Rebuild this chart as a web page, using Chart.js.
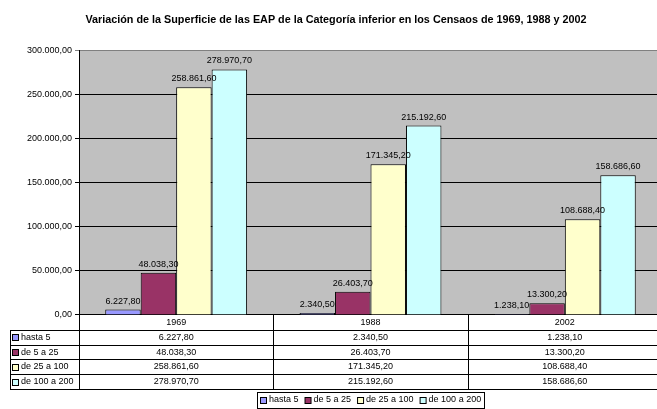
<!DOCTYPE html>
<html lang="es">
<head>
<meta charset="utf-8">
<title>Superficie EAP categoría inferior</title>
<script src="https://cdn.jsdelivr.net/npm/chart.js@4.4.1/dist/chart.umd.min.js"></script>
<style>
  html, body { margin: 0; padding: 0; background: #fff; overflow: hidden; }
  #wrap { width: 666px; height: 409px; }
</style>
</head>
<body>
<div id="wrap"><canvas id="chart" width="666" height="409"></canvas></div>
<script>
'use strict';

/* ── Data ── */
const years       = ['1969', '1988', '2002'];
const seriesNames = ['hasta 5', 'de 5 a 25', 'de 25 a 100', 'de 100 a 200'];
const hasta5      = [6227.8, 2340.5, 1238.1];
const de5a25      = [48038.3, 26403.7, 13300.2];
const de25a100    = [258861.6, 171345.2, 108688.4];
const de100a200   = [278970.7, 215192.6, 158686.6];
const yTickValues = [0, 50000, 100000, 150000, 200000, 250000, 300000];

const TITLE = 'Variación de la Superficie de las EAP de la Categoría inferior en los Censaos de 1969, 1988 y 2002';

/* ── Theme ── */
const C = {
  plot:   '#C0C0C0',
  ink:    '#000000',
  frame:  '#808080',
  series: ['#9999FF', '#993366', '#FFFFCC', '#CCFFFF'],
};
const FONT = '"Liberation Sans", Arial, sans-serif';
const TXT  = 9;
const PAD_L = 10;          // outer left padding (shifts title centre)

Chart.defaults.font.family = FONT;
Chart.defaults.color = C.ink;

/* 6.227,80 style numbers */
function fmt(v) {
  const [i, d] = Number(v).toFixed(2).split('.');
  return i.replace(/\B(?=(\d{3})+(?!\d))/g, '.') + ',' + d;
}
const crisp = v => Math.round(v) + 0.5;

/* ============================================================
   PLUGINS
   ============================================================ */
const plotBg = {
  id: 'plotBg',
  beforeDraw(chart) {
    const { ctx, chartArea: a } = chart;
    ctx.save();
    ctx.fillStyle = C.plot;
    ctx.fillRect(a.left, a.top, a.right - a.left, a.bottom - a.top);
    ctx.restore();
  },
};

const barLabels = {
  id: 'barLabels',
  afterDatasetsDraw(chart) {
    const { ctx } = chart;
    ctx.save();
    ctx.font = `${TXT}px ${FONT}`;
    ctx.fillStyle = C.ink;
    ctx.textAlign = 'center';
    ctx.textBaseline = 'bottom';
    chart.data.datasets.forEach((ds, di) => {
      chart.getDatasetMeta(di).data.forEach((bar, i) => {
        ctx.fillText(fmt(ds.data[i]), bar.x, bar.y - 4);
      });
    });
    ctx.restore();
  },
};

/* Excel style data table under the axis */
const TABLE = { headH: 15, rowH: 14.75, left: 10, box: 6 };

const dataTable = {
  id: 'dataTable',
  afterDraw(chart) {
    const { ctx, chartArea: a, scales: { x } } = chart;
    const sets = chart.data.datasets;
    const n = chart.data.labels.length;
    const colW = (a.right - a.left) / n;
    const top = a.bottom;
    const bodyTop = top + TABLE.headH;
    const bottom = bodyTop + TABLE.rowH * sets.length;

    ctx.save();
    ctx.strokeStyle = C.ink;
    ctx.lineWidth = 1;
    ctx.beginPath();
    for (let r = 0; r <= sets.length; r++) {
      const y = crisp(bodyTop + r * TABLE.rowH);
      ctx.moveTo(TABLE.left, y);
      ctx.lineTo(a.right, y);
    }
    ctx.moveTo(crisp(TABLE.left), bodyTop);
    ctx.lineTo(crisp(TABLE.left), bottom);
    for (let i = 0; i <= n; i++) {
      const xx = crisp(a.left + i * colW);
      ctx.moveTo(xx, top);
      ctx.lineTo(xx, bottom);
    }
    ctx.stroke();

    ctx.font = `${TXT}px ${FONT}`;
    ctx.textBaseline = 'middle';
    sets.forEach((ds, r) => {
      const cy = bodyTop + (r + 0.5) * TABLE.rowH;
      // series key
      const by = Math.round(cy - TABLE.box / 2) + 0.5;
      ctx.fillStyle = ds.backgroundColor;
      ctx.fillRect(TABLE.left + 2.5, by, TABLE.box, TABLE.box);
      ctx.strokeRect(TABLE.left + 2.5, by, TABLE.box, TABLE.box);
      ctx.fillStyle = C.ink;
      ctx.textAlign = 'left';
      ctx.fillText(ds.label, TABLE.left + 11, cy);
      // values
      ctx.textAlign = 'center';
      ds.data.forEach((v, i) => ctx.fillText(fmt(v), x.getPixelForValue(i), cy));
    });
    ctx.restore();
  },
};

/* Boxed legend below the table, centred on the plot */
const LEG = { top: 392, h: 16, box: 6, gap: 3, itemGap: 6, pad: 3 };

const boxLegend = {
  id: 'boxLegend',
  afterDraw(chart) {
    const { ctx, chartArea: a } = chart;
    const sets = chart.data.datasets;
    ctx.save();
    ctx.font = `${TXT}px ${FONT}`;
    const widths = sets.map(ds => ctx.measureText(ds.label).width);
    const total = widths.reduce((s, w) => s + LEG.box + LEG.gap + w, 0)
                + LEG.itemGap * (sets.length - 1) + LEG.pad * 2;
    const left = Math.round((a.left + a.right) / 2 - total / 2);
    const cy = LEG.top + LEG.h / 2;

    ctx.strokeStyle = C.ink;
    ctx.lineWidth = 1;
    ctx.strokeRect(left + 0.5, LEG.top + 0.5, Math.round(total), LEG.h);

    let cx = left + LEG.pad;
    ctx.textAlign = 'left';
    ctx.textBaseline = 'middle';
    sets.forEach((ds, i) => {
      const by = Math.round(cy - LEG.box / 2) + 0.5;
      ctx.fillStyle = ds.backgroundColor;
      ctx.fillRect(cx + 0.5, by, LEG.box, LEG.box);
      ctx.strokeRect(cx + 0.5, by, LEG.box, LEG.box);
      cx += LEG.box + LEG.gap;
      ctx.fillStyle = C.ink;
      ctx.fillText(ds.label, cx, cy);
      cx += widths[i] + LEG.itemGap;
    });
    ctx.restore();
  },
};

/* ============================================================
   CHART
   ============================================================ */
const seriesValues = [hasta5, de5a25, de25a100, de100a200];

new Chart(document.getElementById('chart'), {
  type: 'bar',
  data: {
    labels: years,
    datasets: seriesNames.map((name, i) => ({
      label: name,
      data: seriesValues[i],
      backgroundColor: C.series[i],
      borderColor: C.ink,
      borderWidth: 1,
      categoryPercentage: 0.73,
      barPercentage: 1,
    })),
  },
  options: {
    responsive: false,
    animation: false,
    layout: { padding: { left: PAD_L, right: 4, top: 0, bottom: 0 } },
    plugins: {
      legend: { display: false },
      tooltip: { enabled: false },
      title: {
        display: true,
        text: TITLE,
        color: C.ink,
        font: { size: 10.8, weight: 'bold' },
        padding: { top: 13.5, bottom: 24.5 },
      },
    },
    scales: {
      x: {
        grid: { display: false, drawTicks: false },
        border: { display: true, color: C.ink },
        ticks: { color: C.ink, font: { size: TXT }, padding: 2, maxRotation: 0 },
        afterFit: s => { s.height = 94; },
      },
      y: {
        min: 0,
        max: 300000,
        afterBuildTicks: s => { s.ticks = yTickValues.map(v => ({ value: v })); },
        ticks: { color: C.ink, font: { size: TXT }, padding: 3, callback: v => fmt(v) },
        grid: {
          color: c => (c.tick && c.tick.value === 300000 ? C.frame : C.ink),
          tickLength: 4,
        },
        border: { display: true, color: C.ink },
        afterFit: s => { s.width = 79 - PAD_L; },
      },
    },
  },
  plugins: [plotBg, barLabels, dataTable, boxLegend],
});
</script>
</body>
</html>
